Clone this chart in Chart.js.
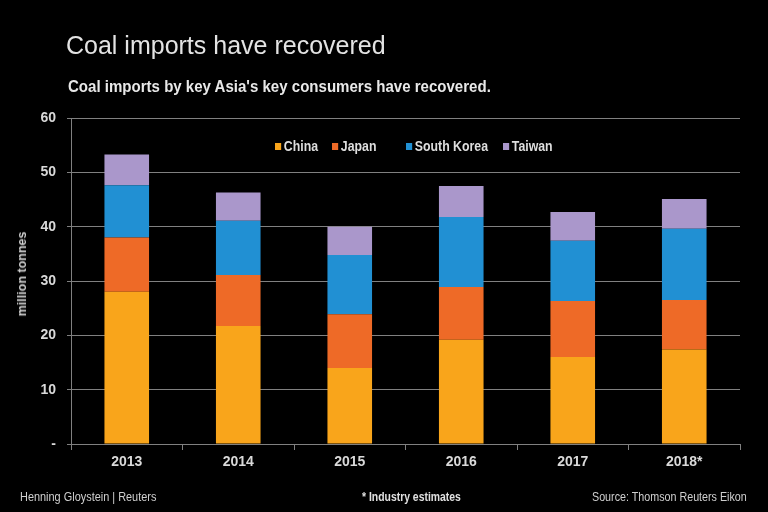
<!DOCTYPE html>
<html>
<head>
<meta charset="utf-8">
<script src="https://cdn.jsdelivr.net/npm/chart.js@4.4.0/dist/chart.umd.min.js"></script>
<style>
  html, body { margin: 0; padding: 0; background: #000; }
  #wrap { position: relative; width: 768px; height: 512px; background: #000; overflow: hidden;
          font-family: "Liberation Sans", Arial, sans-serif; color: #d9d9d9; }
  #chart { position: absolute; left: 0; top: 0; }
  .txt { position: absolute; white-space: nowrap; transform-origin: left center; }
  #title { left: 66px; top: 31px; font-size: 25px; color: #e3e3e3; }
  #sub { left: 68px; top: 77px; font-size: 17px; font-weight: bold; color: #e8e8e8; transform: scaleX(0.885); }
  .foot { top: 489px; font-size: 13px; color: #cfcfcf; transform: scaleX(0.84); }
  .leg { top: 138px; font-size: 14px; font-weight: bold; color: #dedede; transform: scaleX(0.88); }
  .leg i { display: inline-block; width: 7px; height: 7px; margin-right: 3px; vertical-align: 1px; }
  #ytitle { left: 22px; top: 274px; font-size: 12.5px; font-weight: bold; color: #d0d0d0;
            transform: translate(-50%, -50%) rotate(-90deg); transform-origin: center center; }
</style>
</head>
<body>
<div id="wrap">
  <canvas id="chart" width="768" height="512"></canvas>
  <div class="txt" id="title">Coal imports have recovered</div>
  <div class="txt" id="sub">Coal imports by key Asia's key consumers have recovered.</div>
  <div class="txt" id="ytitle">million tonnes</div>
  <div class="txt foot" style="left:20px">Henning Gloystein | Reuters</div>
  <div class="txt foot" style="left:362px; font-weight:bold; color:#e0e0e0; transform:scaleX(0.8)">* Industry estimates</div>
  <div class="txt foot" style="left:592px; transform:scaleX(0.825)">Source: Thomson Reuters Eikon</div>
  <div id="legend"></div>
</div>
<script>
const years = ["2013", "2014", "2015", "2016", "2017", "2018*"];
const china = [28.0, 21.7, 14.0, 19.2, 16.0, 17.4];
const japan = [10.0, 9.4, 9.9, 9.7, 10.3, 9.1];
const southKorea = [9.6, 10.0, 10.9, 12.9, 11.1, 13.1];
const taiwan = [5.7, 5.2, 5.2, 5.7, 5.3, 5.5];

const seriesNames = ["China", "Japan", "South Korea", "Taiwan"];
const seriesColors = ["#f9a51b", "#ee6a27", "#2190d3", "#aa97cb"];
const legendLeft = [275, 332, 406, 503];

const fontFam = '"Liberation Sans", Arial, sans-serif';
const gridColor = "#808080";
const textColor = "#d9d9d9";

// legend as html, sits inside the plot area like the original
const legend = document.getElementById("legend");
seriesNames.forEach((n, i) => {
  const d = document.createElement("div");
  d.className = "txt leg";
  d.style.left = legendLeft[i] + "px";
  d.innerHTML = `<i style="background:${seriesColors[i]}"></i>${n}`;
  legend.appendChild(d);
});

const allData = [china, japan, southKorea, taiwan];

new Chart(document.getElementById("chart"), {
  type: "bar",
  data: {
    labels: years,
    datasets: seriesNames.map((n, i) => ({
      label: n, data: allData[i], backgroundColor: seriesColors[i], borderWidth: 0,
      barPercentage: 0.4, categoryPercentage: 1.0
    }))
  },
  options: {
    responsive: false,
    animation: false,
    layout: { padding: { left: 0, top: 118, right: 28, bottom: 0 } },
    plugins: {
      tooltip: { enabled: false },
      legend: { display: false }
    },
    scales: {
      x: {
        stacked: true,
        grid: { display: true, offset: true, drawOnChartArea: false, color: gridColor, tickLength: 6 },
        border: { color: gridColor },
        ticks: { color: textColor, font: { family: fontFam, size: 14, weight: "bold" }, padding: 4 },
        afterFit: s => { s.height = 68; }
      },
      y: {
        stacked: true,
        min: 0, max: 60,
        grid: { color: gridColor, drawTicks: true, tickLength: 4 },
        border: { color: gridColor },
        ticks: { stepSize: 10, color: textColor, padding: 11,
                 font: { family: fontFam, size: 14, weight: "bold" },
                 callback: v => v === 0 ? "-" : v },
        afterFit: s => { s.width = 71; }
      }
    }
  }
});
</script>
</body>
</html>
